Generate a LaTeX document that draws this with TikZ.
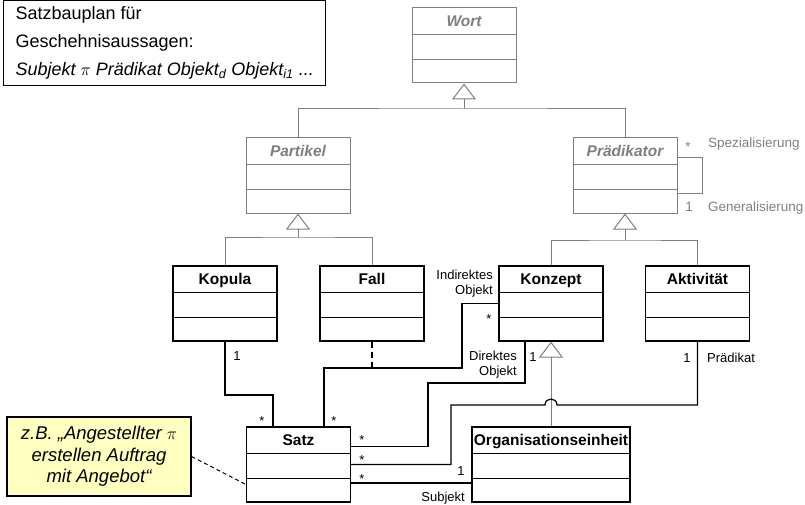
\documentclass[tikz,border=0pt]{standalone}
\usepackage{fontspec}
\setmainfont{Liberation Sans}
\usetikzlibrary{arrows.meta}
\definecolor{umlgray}{HTML}{7F7F7F}
\definecolor{notefill}{HTML}{FFFFC0}

\tikzset{
  classbox/.style={draw, fill=white, minimum height=75pt, inner sep=0pt},
  concrete/.style={draw=black, line width=1.2pt},
  abstract/.style={draw=umlgray, line width=1pt},
  concrete title/.style={font=\fontsize{15.5}{18}\selectfont\bfseries, text=black, inner sep=0pt, anchor=base},
  abstract title/.style={font=\fontsize{15.5}{18}\selectfont\bfseries\itshape, text=umlgray, inner sep=0pt, anchor=base},
  genline/.style={draw=umlgray, line width=1pt},
  gen/.style={genline, -{Triangle[open, length=16pt, width=24pt]}},
  assoc/.style={draw=black, line width=1.2pt},
  linkdash/.style={draw=black, line width=1.8pt, dash pattern=on 6pt off 4pt},
  notelink/.style={draw=black, line width=1pt, dash pattern=on 4pt off 3pt},
  role/.style={font=\fontsize{13}{15}\selectfont, text=black, inner sep=0pt},
  grayrole/.style={role, font=\fontsize{13.5}{15}\selectfont, text=umlgray},
  note/.style={draw=black, line width=1.2pt, fill=notefill, minimum width=184pt,
    minimum height=79pt, align=center, inner sep=0pt,
    font=\fontsize{18.5}{21.5}\selectfont\itshape},
  legend/.style={draw=black, line width=1.2pt, fill=white, minimum height=85pt,
    inner xsep=12pt, inner ysep=0pt, align=left, font=\fontsize{18}{28}\selectfont},
}

% UML class with three compartments: name, centre, width, kind
\newcommand{\umlclass}[4]{%
  \node[classbox, #4, minimum width=#3] (#1) at (#2) {};
  \draw[#4] ([yshift=-27pt]#1.north west) -- ([yshift=-27pt]#1.north east);
  \draw[#4] ([yshift=-52pt]#1.north west) -- ([yshift=-52pt]#1.north east);
}

\begin{document}
\begin{tikzpicture}[x=1pt,y=-1pt]
\useasboundingbox (0,0) rectangle (805,505);

% classes
\umlclass{Wort}{464,45.5}{104pt}{abstract}
\node[abstract title] (Wort-title) at ([yshift=-19pt]Wort.north) {Wort};
\umlclass{Partikel}{298,175.5}{104pt}{abstract}
\node[abstract title] (Partikel-title) at ([yshift=-19pt]Partikel.north) {Partikel};
\umlclass{Praedikator}{625,175.5}{104pt}{abstract}
\node[abstract title] (Praedikator-title) at ([yshift=-19pt]Praedikator.north) {Prädikator};
\umlclass{Kopula}{225,303.5}{104pt}{concrete}
\node[concrete title] (Kopula-title) at ([yshift=-19pt]Kopula.north) {Kopula};
\umlclass{Fall}{372,303.5}{104pt}{concrete}
\node[concrete title] (Fall-title) at ([yshift=-19pt]Fall.north) {Fall};
\umlclass{Konzept}{551,303.5}{104pt}{concrete}
\node[concrete title] (Konzept-title) at ([yshift=-19pt]Konzept.north) {Konzept};
\umlclass{Aktivitaet}{697.5,303.5}{104pt}{concrete}
\node[concrete title] (Aktivitaet-title) at ([yshift=-19pt]Aktivitaet.north) {Aktivität};
\umlclass{Satz}{298.5,464.5}{104pt}{concrete}
\node[concrete title] (Satz-title) at ([yshift=-19pt]Satz.north) {Satz};
\umlclass{Org}{551,464.5}{158pt}{concrete}
\node[concrete title] (Org-title) at ([yshift=-19pt]Org.north) {Organisationseinheit};

% sentence plan
\node[legend, anchor=north west] (plan) at (3,0)
  {Satzbauplan für\\ Geschehnisaussagen:\\
   {\itshape Subjekt $\pi$ Prädikat Objekt\textsubscript{d} Objekt\textsubscript{i1} ...}};

% example note
\node[note] (note) at (99,456.5)
  {z.B. „Angestellter $\pi$\\ erstellen Auftrag\\ mit Angebot“};
\draw[notelink] (note.east) -- ([yshift=-20pt]Satz.west);

% generalisations
\coordinate (wj) at (464,109);
\draw[genline] (Partikel.north) |- (wj) -| (Praedikator.north);
\draw[gen] (wj) -- (Wort.south);

\coordinate (pj) at (298,237);
\draw[genline] (Kopula.north) |- (pj) -| (Fall.north);
\draw[gen] (pj) -- (Partikel.south);

\coordinate (rj) at (625,240);
\draw[genline] (Konzept.north) |- (rj) -| (Aktivitaet.north);
\draw[gen] (rj) -- (Praedikator.south);

\draw[gen] (Org.north) -- (Konzept.south);

% reflexive association of Prädikator
\draw[genline] ([yshift=18pt]Praedikator.east) -- ++(25pt,0pt) |- ([yshift=-18pt]Praedikator.east);
\node[grayrole, anchor=base] (specmult) at (688,152) {*};
\node[grayrole, anchor=base west] (spec) at (708,147.5) {Spezialisierung};
\node[grayrole, anchor=base] (genmult) at (689,211.5) {1};
\node[grayrole, anchor=base west] (genrole) at (708,211.5) {Generalisierung};

% Kopula -- Satz
\coordinate (kc) at (273,395);
\draw[assoc] (Kopula.south) |- (kc) -- (kc |- Satz.north);
\node[role, anchor=base] (kopmult) at (237,360.5) {1};
\node[role, anchor=base] (kopstar) at (262,425.5) {*};

% indirect object with Fall as link
\coordinate (io) at (462,368);
\draw[assoc] (Konzept.west) -| (io) -| ([xshift=25.5pt]Satz.north);
\draw[linkdash] (Fall.south) -- (Fall.south |- io);
\node[role, anchor=base] (indstar) at (334,425.5) {*};
\node[role, anchor=base] (indkstar) at (489,323.5) {*};
\node[role, anchor=north east, align=right] (indrole) at (493,269.5) {Indirektes\\Objekt};

% direct object
\coordinate (do) at (428,383);
\draw[assoc] ([xshift=-26pt]Konzept.south) |- (do) |- ([yshift=18pt]Satz.east);
\node[role, anchor=base] (dirmult) at (533,361.5) {1};
\node[role, anchor=north east, align=right] (dirrole) at (517,350.5) {Direktes\\Objekt};
\node[role, anchor=base] (dirstar) at (362,444.5) {*};

% predicate
\coordinate (po) at (451,405);
\coordinate (jump) at (Org.north |- po);
\draw[assoc] (Satz.east) -| (po) -- ([xshift=-6pt]jump)
  .. controls ([xshift=-6pt,yshift=8pt]jump) and ([xshift=6pt,yshift=8pt]jump) .. ([xshift=6pt]jump)
  -- (Aktivitaet.south |- po) -- (Aktivitaet.south);
\node[role, anchor=base] (predstar) at (362,464.5) {*};
\node[role, anchor=base] (predmult) at (687,362.5) {1};
\node[role, anchor=base west] (predrole) at (707,362.5) {Prädikat};

% subject
\draw[assoc] ([yshift=-18.5pt]Satz.east) -- ([yshift=-18.5pt]Org.west);
\node[role, anchor=base] (subjstar) at (362,483.5) {*};
\node[role, anchor=base] (subjmult) at (461,475.5) {1};
\node[role, anchor=base east] (subjrole) at (465,501.5) {Subjekt};
\end{tikzpicture}
\end{document}
